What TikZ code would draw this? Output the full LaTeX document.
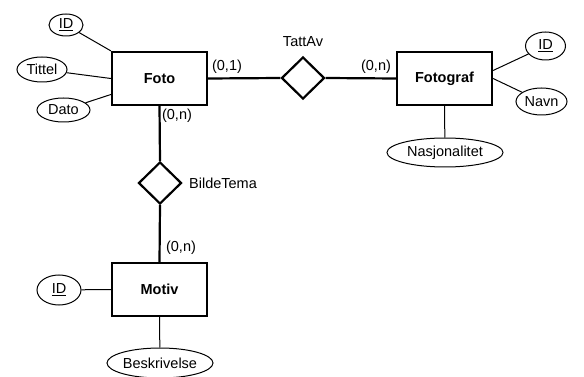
\documentclass[tikz,border=0pt]{standalone}
\usepackage{fontspec}
\setmainfont{Liberation Sans}
\usetikzlibrary{shapes.geometric}
\begin{document}
\begin{tikzpicture}[x=1pt,y=-1pt,
  every node/.style={font=\fontsize{14.5}{17}\selectfont},
  entity/.style={draw, line width=2.2pt, minimum width=95pt, minimum height=53pt,
    inner sep=0pt, font=\fontsize{14.5}{17}\selectfont\bfseries},
  relation/.style={draw, diamond, aspect=1, line width=2.2pt, minimum width=43pt,
    minimum height=42pt, inner sep=0pt},
  attr/.style={draw, ellipse, line width=1pt, inner sep=0pt},
  link/.style={line width=2.2pt},
  attrline/.style={line width=1pt},
  lbl/.style={inner sep=0pt}
]
\useasboundingbox (0,0) rectangle (584,377);

% entities
\node[entity] (foto) at (159.5,78.5) {Foto};
\node[entity] (fotograf) at (444.5,78.5) {Fotograf};
\node[entity] (motiv) at (159.5,289.5) {Motiv};

% relationships
\node[relation] (tattav) at (303,78) {};
\node[relation] (bildetema) at (160,183) {};
\node[lbl] (tattavlbl) at (303,42) {TattAv};
\node[lbl] (bildetemalbl) at (223,183) {BildeTema};

% attributes of Foto
\node[attr, minimum width=34pt, minimum height=22pt] (fotoid) at (66,25) {\underline{ID}};
\node[attr, minimum width=50pt, minimum height=25pt] (tittel) at (42,69.5) {Tittel};
\node[attr, minimum width=53pt, minimum height=24pt] (dato) at (63.5,110) {Dato};

% attributes of Fotograf
\node[attr, minimum width=40pt, minimum height=28pt] (fgid) at (545.5,46) {\underline{ID}};
\node[attr, minimum width=51pt, minimum height=27pt] (navn) at (541.5,101.5) {Navn};
\node[attr, minimum width=116pt, minimum height=29pt] (nasjon) at (445,152.5) {Nasjonalitet};

% attributes of Motiv
\node[attr, minimum width=44pt, minimum height=30pt] (motivid) at (59,290) {\underline{ID}};
\node[attr, minimum width=106pt, minimum height=30pt] (beskr) at (160,363) {Beskrivelse};

% relationship links
\draw[link] (foto.east) -- (tattav.west);
\draw[link] (tattav.east) -- (fotograf.west);
\draw[link] (foto.south) -- (bildetema.north);
\draw[link] (bildetema.south) -- (motiv.north);

% cardinalities
\node[lbl] (c1) at (227,67) {(0,1)};
\node[lbl] (c2) at (376,67) {(0,n)};
\node[lbl] (c3) at (177,116) {(0,n)};
\node[lbl] (c4) at (181,248) {(0,n)};

% attribute links
\draw[attrline] (fotoid) -- (foto.north west);
\draw[attrline] (tittel) -- (foto.west);
\draw[attrline] (dato) -- ([yshift=-16pt]foto.west);
\draw[attrline] (fgid) -- ([yshift=8pt]fotograf.east);
\draw[attrline] (navn) -- (fotograf.east);
\draw[attrline] (nasjon) -- (fotograf.south);
\draw[attrline] (motivid) -- (motiv.west);
\draw[attrline] (beskr) -- (motiv.south);
\end{tikzpicture}
\end{document}
